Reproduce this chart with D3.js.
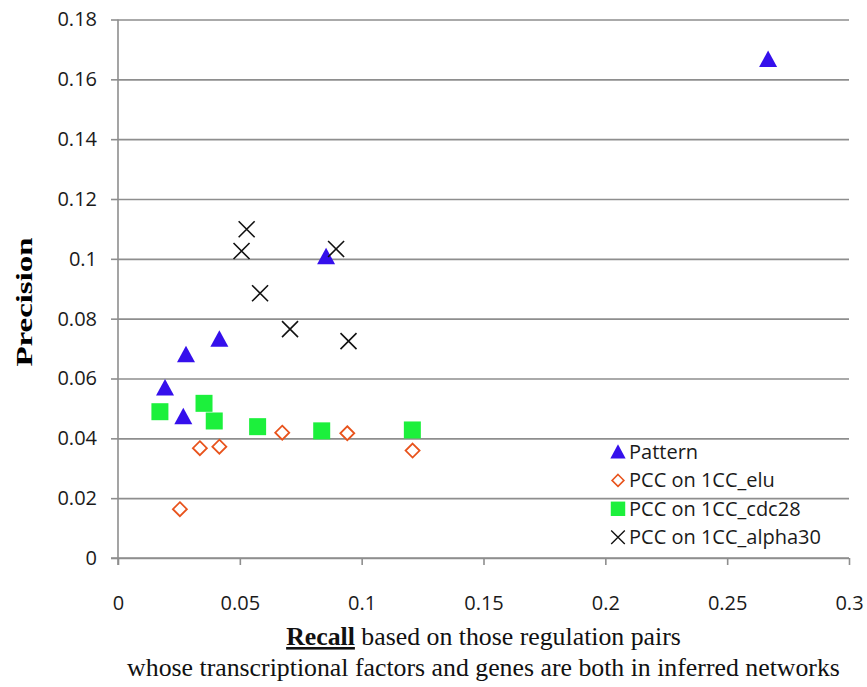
<!DOCTYPE html>
<html>
<head>
<meta charset="utf-8">
<script src="https://cdn.jsdelivr.net/npm/d3@7"></script>
<style>
  html, body { margin: 0; padding: 0; background: #fff; }
  .tick text { font-family: "Open Sans", sans-serif; font-size: 20px; fill: #1a1a1a; }
</style>
</head>
<body>
<svg id="chart" width="867" height="687"></svg>
<script>
// recall / precision per method
const patternRecall = [0.0193, 0.0279, 0.0268, 0.0416, 0.0854, 0.2668];
const patternPrecision = [0.0568, 0.0679, 0.0472, 0.0731, 0.1007, 0.1666];

const eluRecall = [0.0254, 0.0336, 0.0416, 0.0674, 0.0941, 0.1209];
const eluPrecision = [0.0163, 0.0367, 0.0372, 0.0419, 0.0417, 0.0359];

const cdc28Recall = [0.0172, 0.0353, 0.0395, 0.0573, 0.0836, 0.1208];
const cdc28Precision = [0.0489, 0.0517, 0.0458, 0.0439, 0.0425, 0.0428];

const alpha30Recall = [0.0528, 0.0507, 0.0895, 0.0583, 0.0706, 0.0946];
const alpha30Precision = [0.1099, 0.1026, 0.1033, 0.0885, 0.0765, 0.0725];

const seriesNames = ["Pattern", "PCC on 1CC_elu", "PCC on 1CC_cdc28", "PCC on 1CC_alpha30"];
const xTicks = [0, 0.05, 0.1, 0.15, 0.2, 0.25, 0.3];
const yTicks = [0, 0.02, 0.04, 0.06, 0.08, 0.1, 0.12, 0.14, 0.16, 0.18];

const plotLeft = 118, plotRight = 849, plotTop = 19.5, plotBottom = 558;
const gridColor = '#8e8e8e';

const svg = d3.select('#chart');

const x = d3.scaleLinear().domain([0, 0.3]).range([plotLeft, plotRight]);
const y = d3.scaleLinear().domain([0, 0.18]).range([plotBottom, plotTop]);

const fmt = d => String(+d.toFixed(2));

// gridlines
svg.append('g')
  .attr('transform', 'translate(' + plotLeft + ',0)')
  .call(d3.axisLeft(y).tickValues(yTicks).tickSize(-(plotRight - plotLeft)).tickFormat(''))
  .call(g => g.select('.domain').remove())
  .call(g => g.selectAll('line').attr('stroke', gridColor).attr('stroke-width', 1.6));

const yAxis = svg.append('g')
  .attr('transform', 'translate(' + plotLeft + ',0)')
  .call(d3.axisLeft(y).tickValues(yTicks).tickSize(7).tickSizeOuter(0).tickPadding(14).tickFormat(fmt));

const xAxis = svg.append('g')
  .attr('transform', 'translate(0,' + plotBottom + ')')
  .call(d3.axisBottom(x).tickValues(xTicks).tickSize(7).tickSizeOuter(0).tickPadding(31).tickFormat(fmt));

[yAxis, xAxis].forEach(a => {
  a.selectAll('line, .domain').attr('stroke', gridColor).attr('stroke-width', 1.6);
});
yAxis.select('.domain').attr('d', 'M0,' + plotTop + 'V' + (plotBottom + 7));
xAxis.select('.domain').attr('d', 'M' + (plotLeft - 7) + ',0H' + plotRight);

// markers
const triPath = 'M0,-9L9,7.5L-9,7.5Z';
const sqPath = 'M-8.5,-8.5H8.5V8.5H-8.5Z';
const diaPath = 'M0,-7L7,0L0,7L-7,0Z';
const crossPath = 'M-8,-8L8,8M8,-8L-8,8';

const styles = [
  { path: triPath, fill: '#3510ec', stroke: 'none', sw: 0 },
  { path: diaPath, fill: '#fff', stroke: '#e8531c', sw: 1.8 },
  { path: sqPath, fill: '#1cf03c', stroke: 'none', sw: 0 },
  { path: crossPath, fill: 'none', stroke: '#111', sw: 1.6 }
];

const series = [
  d3.zip(patternRecall, patternPrecision),
  d3.zip(eluRecall, eluPrecision),
  d3.zip(cdc28Recall, cdc28Precision),
  d3.zip(alpha30Recall, alpha30Precision)
];

series.forEach((pts, i) => {
  const s = styles[i];
  svg.append('g').selectAll('path')
    .data(pts)
    .enter()
    .append('path')
    .attr('transform', d => 'translate(' + x(d[0]) + ',' + y(d[1]) + ')')
    .attr('d', s.path)
    .attr('fill', s.fill)
    .attr('stroke', s.stroke)
    .attr('stroke-width', s.sw);
});

// legend
const legend = svg.append('g').attr('transform', 'translate(618,452)');
seriesNames.forEach((name, i) => {
  const s = styles[i];
  const row = legend.append('g').attr('transform', 'translate(0,' + (i * 28.4) + ')');
  row.append('path')
    .attr('d', s.path)
    .attr('transform', 'scale(0.85)')
    .attr('fill', s.fill)
    .attr('stroke', s.stroke)
    .attr('stroke-width', s.sw);
  row.append('text')
    .attr('x', 11)
    .attr('y', 7)
    .style('font-family', '"Open Sans", sans-serif')
    .style('font-size', '20px')
    .attr('fill', '#1a1a1a')
    .text(name);
});

// axis titles
svg.append('text')
  .attr('transform', 'translate(32,302) rotate(-90)')
  .attr('text-anchor', 'middle')
  .attr('textLength', 129)
  .attr('lengthAdjust', 'spacingAndGlyphs')
  .style('font-family', '"Liberation Serif", "Times New Roman", serif')
  .style('font-weight', 'bold')
  .style('font-size', '23px')
  .text('Precision');

const t1 = svg.append('text')
  .attr('x', (plotLeft + plotRight) / 2)
  .attr('y', 645)
  .attr('text-anchor', 'middle')
  .style('font-family', '"Liberation Serif", "Times New Roman", serif')
  .style('font-size', '25.8px')
  .attr('fill', '#111');
t1.append('tspan').style('font-weight', 'bold').style('text-decoration', 'underline').text('Recall');
t1.append('tspan').text(' based on those regulation pairs');

svg.append('text')
  .attr('x', (plotLeft + plotRight) / 2)
  .attr('y', 676)
  .attr('text-anchor', 'middle')
  .style('font-family', '"Liberation Serif", "Times New Roman", serif')
  .style('font-size', '25.8px')
  .attr('fill', '#111')
  .text('whose transcriptional factors and genes are both in inferred networks');
</script>
</body>
</html>
